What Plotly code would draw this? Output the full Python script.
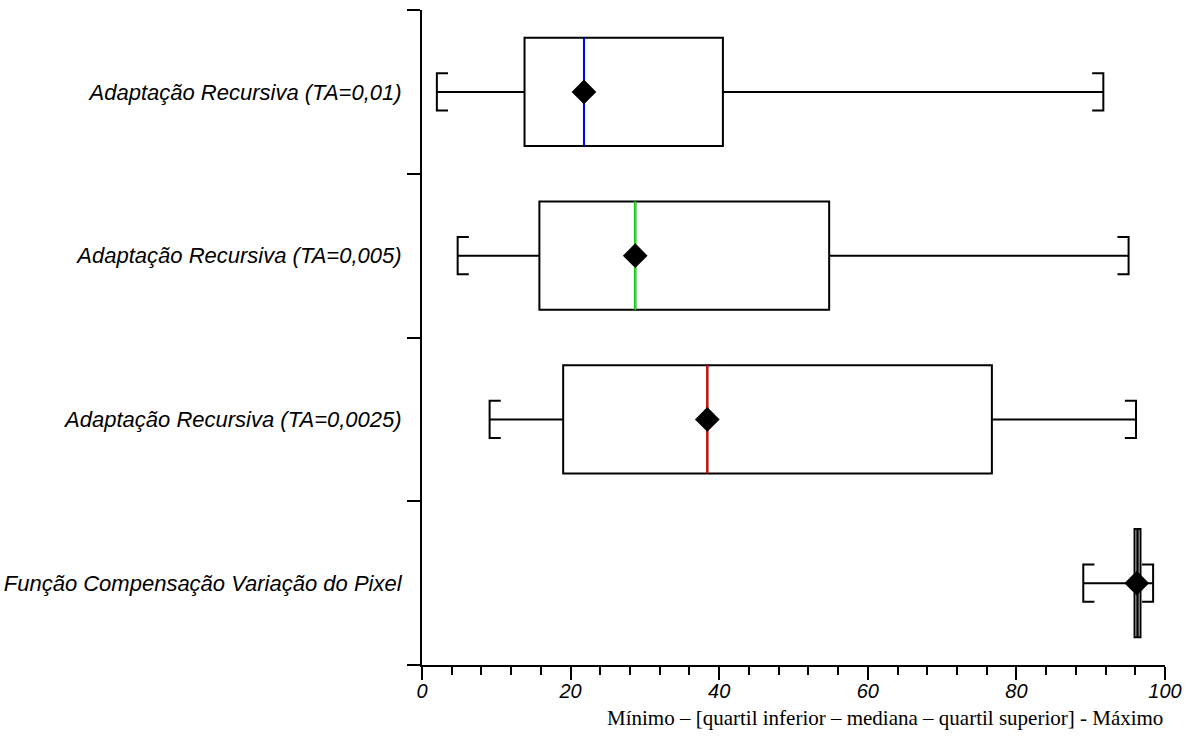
import plotly.graph_objects as go

# Groups, listed top to bottom
categories = [
    "Adaptação Recursiva (TA=0,01)",
    "Adaptação Recursiva (TA=0,005)",
    "Adaptação Recursiva (TA=0,0025)",
    "Função Compensação Variação do Pixel",
]
minimum = [2.0, 4.8, 9.1, 89.0]
q1 = [13.8, 15.8, 19.0, 95.9]
median = [21.8, 28.7, 38.4, 96.3]
q3 = [40.5, 54.8, 76.7, 96.7]
maximum = [91.7, 95.1, 96.1, 98.4]
mean = [21.8, 28.7, 38.4, 96.2]
median_colors = ["#0000ff", "#00ff00", "#ff0000", "#000000"]

x_ticks = [0, 20, 40, 60, 80, 100]

pos = list(range(len(categories)))
box_half = 0.331      # half box height (category units)
cap_half = 0.113      # half whisker-cap height
cap_arm = 1.5         # length of the cap's serifs (x units)

fig = go.Figure()

# Boxes and whiskers from precomputed statistics
fig.add_trace(go.Box(
    y=pos, q1=q1, median=median, q3=q3,
    lowerfence=minimum, upperfence=maximum,
    orientation="h", width=2 * box_half, whiskerwidth=0,
    boxpoints=False, fillcolor="white",
    line=dict(color="black", width=2),
    showlegend=False, hoverinfo="skip",
))

# Coloured median lines
for i in pos:
    fig.add_trace(go.Scatter(
        x=[median[i], median[i]], y=[i - box_half, i + box_half],
        mode="lines", line=dict(color=median_colors[i], width=2),
        showlegend=False, hoverinfo="skip",
    ))

# Bracket-shaped whisker caps
for i in pos:
    lo, hi = minimum[i], maximum[i]
    fig.add_trace(go.Scatter(
        x=[lo + cap_arm, lo, lo, lo + cap_arm, None,
           hi - cap_arm, hi, hi, hi - cap_arm],
        y=[i - cap_half, i - cap_half, i + cap_half, i + cap_half, None,
           i - cap_half, i - cap_half, i + cap_half, i + cap_half],
        mode="lines", line=dict(color="black", width=2),
        showlegend=False, hoverinfo="skip",
    ))

# Mean markers
fig.add_trace(go.Scatter(
    x=mean, y=pos, mode="markers",
    marker=dict(symbol="diamond", size=19, color="black"),
    showlegend=False, hoverinfo="skip",
))

fig.add_annotation(
    text="Mínimo – [quartil inferior – mediana – quartil superior] - Máximo",
    xref="paper", yref="paper", x=1.0, y=-0.081,
    xanchor="right", yanchor="middle", showarrow=False,
    font=dict(family="Liberation Serif", size=21, color="black"),
)

fig.update_layout(
    width=1191, height=749,
    margin=dict(l=421.5, r=25.5, t=10, b=84),
    plot_bgcolor="white", paper_bgcolor="white",
    xaxis=dict(
        range=[0, 100], tickvals=x_ticks, automargin=False,
        showgrid=False, zeroline=False,
        showline=True, linecolor="black", linewidth=2,
        ticks="outside", ticklen=13, tickwidth=2, tickcolor="black",
        ticklabelstandoff=-6,
        tickfont=dict(family="Liberation Sans", size=20, color="black", style="italic"),
        minor=dict(dtick=4, ticks="outside", ticklen=8, tickwidth=2,
                   tickcolor="black", showgrid=False),
    ),
    yaxis=dict(
        range=[len(categories) - 0.5, -0.5], automargin=False,
        tickvals=pos, ticktext=categories,
        showgrid=False, zeroline=False,
        showline=True, linecolor="black", linewidth=2,
        ticks="outside", ticklen=14, tickcolor="rgba(0,0,0,0)",
        tickfont=dict(family="Liberation Sans", size=22, color="black", style="italic"),
        minor=dict(tickvals=[p - 0.5 for p in pos] + [len(categories) - 0.5],
                   ticks="outside", ticklen=13, tickwidth=2,
                   tickcolor="black", showgrid=False),
    ),
)

fig.write_html("out.html")
